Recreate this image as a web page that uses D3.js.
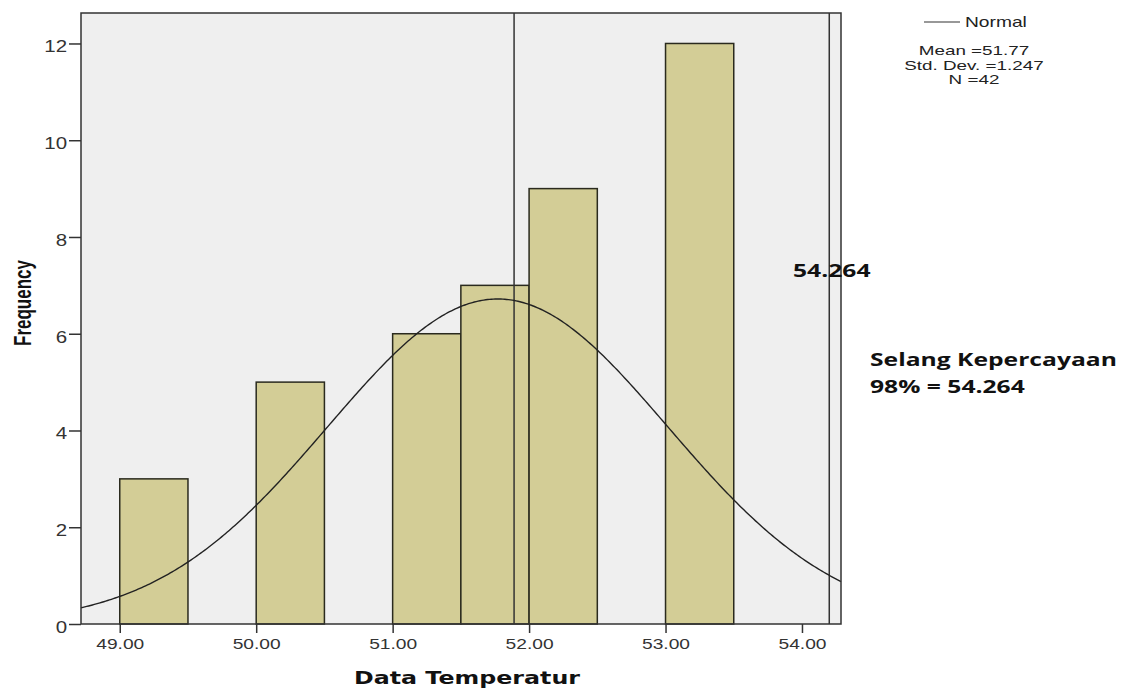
<!DOCTYPE html>
<html>
<head>
<meta charset="utf-8">
<script src="https://cdn.jsdelivr.net/npm/d3@7"></script>
<style>
  body { margin: 0; background: #fff; }
  svg text { font-family: "Liberation Sans", Arial, sans-serif; }
</style>
</head>
<body>
<svg id="chart" width="1137" height="689"></svg>
<script>
// histogram bins (lower edge, upper edge, count)
const binStart = [49.0, 50.0, 51.0, 51.5, 52.0, 53.0];
const binEnd   = [49.5, 50.5, 51.5, 52.0, 52.5, 53.5];
const counts   = [3, 5, 6, 7, 9, 12];
const xTicks = [49, 50, 51, 52, 53, 54];
const yTicks = [0, 2, 4, 6, 8, 10, 12];
const mean = 51.77, sd = 1.247, n = 42, binWidth = 0.5;
const refLines = [51.89, 54.2];
const stats = ['Mean =51.77', 'Std. Dev. =1.247', 'N =42'];

const svg = d3.select('#chart');
const margin = { left: 81, top: 13, right: 296, bottom: 65 };
const width = 1137 - margin.left - margin.right;
const height = 689 - margin.top - margin.bottom;
const sx = 1.28; // the original picture is stretched sideways, text too

const x = d3.scaleLinear().domain([48.716, 54.286]).range([0, width]);
const y = d3.scaleLinear().domain([0, 12.63]).range([height, 0]);

// text placed at (px,py) and stretched horizontally
function label(px, py, txt, k) {
  return svg.append('text')
    .attr('transform', `translate(${px},${py}) scale(${k || sx},1)`)
    .attr('fill', '#111')
    .text(txt);
}

const g = svg.append('g').attr('transform', `translate(${margin.left},${margin.top})`);

g.append('rect')
  .attr('width', width).attr('height', height)
  .attr('fill', '#efefef');

// bars
g.selectAll('.bar')
  .data(counts)
  .enter().append('rect')
  .attr('class', 'bar')
  .attr('x', (d, i) => x(binStart[i]))
  .attr('y', d => y(d))
  .attr('width', (d, i) => x(binEnd[i]) - x(binStart[i]))
  .attr('height', d => y(0) - y(d))
  .attr('fill', '#d3cd96')
  .attr('stroke', '#2a2a1e')
  .attr('stroke-width', 1.5);

// vertical reference lines
g.selectAll('.ref')
  .data(refLines)
  .enter().append('line')
  .attr('x1', d => x(d)).attr('x2', d => x(d))
  .attr('y1', 0).attr('y2', height)
  .attr('stroke', '#333').attr('stroke-width', 1.5);

// normal curve
const xs = d3.range(0, 401).map(i => 48.716 + (54.286 - 48.716) * i / 400);
const pdf = v => n * binWidth / (sd * Math.sqrt(2 * Math.PI)) * Math.exp(-0.5 * ((v - mean) / sd) ** 2);
g.append('path')
  .datum(xs)
  .attr('fill', 'none')
  .attr('stroke', '#222')
  .attr('stroke-width', 1.4)
  .attr('d', d3.line().x(d => x(d)).y(d => y(pdf(d))));

// frame
g.append('rect')
  .attr('width', width).attr('height', height)
  .attr('fill', 'none').attr('stroke', '#333').attr('stroke-width', 1.5);

// axes
const xAxis = g.append('g')
  .attr('transform', `translate(0,${height})`)
  .call(d3.axisBottom(x).tickValues(xTicks).tickFormat(d3.format('.2f')).tickSize(9).tickSizeOuter(0));
const yAxis = g.append('g')
  .call(d3.axisLeft(y).tickValues(yTicks).tickSize(12).tickSizeOuter(0));
[xAxis, yAxis].forEach(a => {
  a.select('.domain').remove();
  a.selectAll('line').attr('stroke', '#333').attr('stroke-width', 1.5);
  a.selectAll('text').attr('fill', '#333')
    .style('font-family', '"Liberation Sans", Arial, sans-serif');
});
xAxis.selectAll('text')
  .style('font-size', '15px')
  .attr('y', 25).attr('dy', 0)
  .attr('transform', `scale(${sx},1)`);
yAxis.selectAll('text')
  .style('font-size', '16px')
  .attr('x', -14 / sx).attr('dy', 8.5)
  .attr('transform', `scale(${sx},1)`);

// axis titles
label(467, 684, 'Data Temperatur', 1.32)
  .attr('text-anchor', 'middle')
  .style('font-family', '"DejaVu Sans", Verdana, sans-serif')
  .style('font-weight', 'bold').style('font-size', '18px');

svg.append('text')
  .attr('transform', 'translate(31,303) rotate(-90) scale(1,1.4)')
  .attr('text-anchor', 'middle')
  .style('font-family', '"Liberation Sans Narrow", "Liberation Sans", Arial, sans-serif')
  .style('font-weight', 'bold').style('font-size', '17px')
  .attr('fill', '#111')
  .text('Frequency');

// legend
svg.append('line')
  .attr('x1', 924).attr('x2', 960).attr('y1', 22).attr('y2', 22)
  .attr('stroke', '#333').attr('stroke-width', 1.2);
label(965, 27, 'Normal').style('font-size', '15px').attr('fill', '#222');
stats.forEach((s, i) => {
  label(974, 55 + i * 14.5, s, 1.45)
    .attr('text-anchor', 'middle')
    .style('font-size', '13px').attr('fill', '#222');
});

// annotations
const noteFont = '"Open Sans", "Noto Sans", sans-serif';
[[793, 277, '54.264'], [870, 366, 'Selang Kepercayaan'], [870, 393, '98% = 54.264']].forEach(t => {
  label(t[0], t[1], t[2], 1.37)
    .style('font-family', noteFont).style('font-weight', 'bold').style('font-size', '18px');
});
</script>
</body>
</html>
